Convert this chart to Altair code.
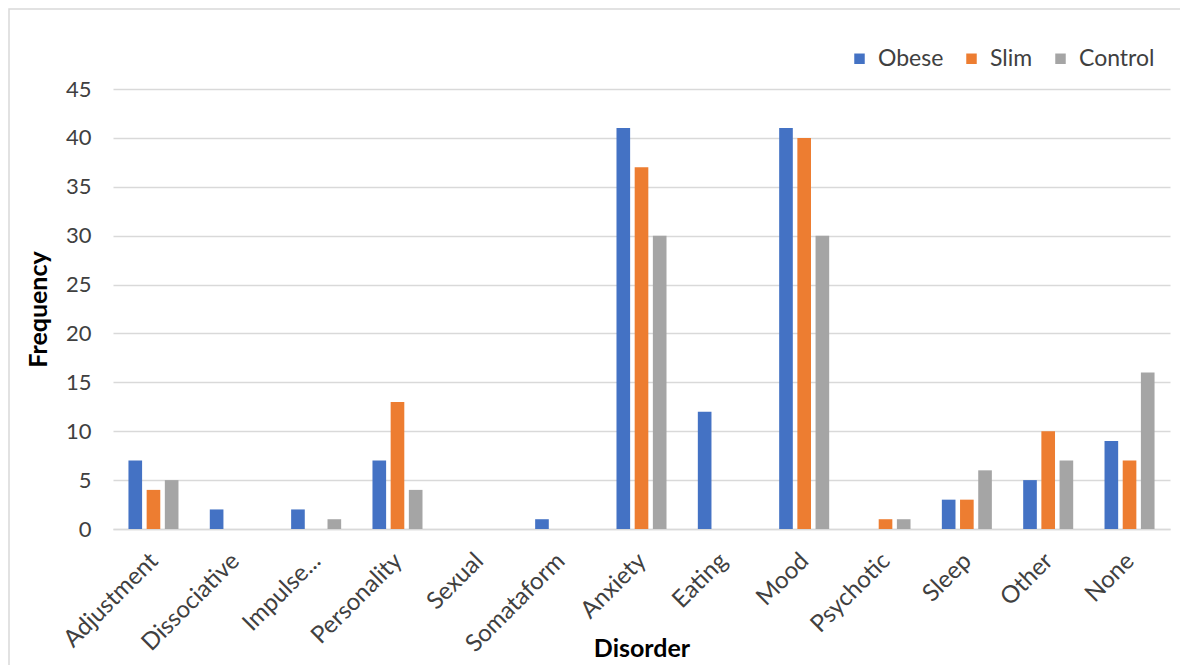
import altair as alt
import pandas as pd

categories = ["Adjustment", "Dissociative", "Impulse...", "Personality", "Sexual",
              "Somataform", "Anxiety", "Eating", "Mood", "Psychotic", "Sleep",
              "Other", "None"]
series = ["Obese", "Slim", "Control"]
obese = [7, 2, 2, 7, 0, 1, 41, 12, 41, 0, 3, 5, 9]
slim = [4, 0, 0, 13, 0, 0, 37, 0, 40, 1, 3, 10, 7]
control = [5, 0, 1, 4, 0, 0, 30, 0, 30, 1, 6, 7, 16]
colors = ["#4472C4", "#ED7D31", "#A5A5A5"]
y_ticks = list(range(0, 50, 5))

rows = []
for s, vals in zip(series, [obese, slim, control]):
    for c, v in zip(categories, vals):
        rows.append({"Disorder": c, "Series": s, "Frequency": v})
df = pd.DataFrame(rows)

FONT = "Lato"
W, H = 1057, 440

bars = alt.Chart(df).mark_bar().encode(
    x=alt.X("Disorder:N", sort=categories,
            scale=alt.Scale(paddingInner=0.385, paddingOuter=0.19),
            axis=alt.Axis(title="Disorder", labelAngle=-45, labelAlign="right",
                          labelBaseline="middle", labelFontSize=24,
                          labelColor="#404040", labelFont=FONT, labelPadding=28,
                          labelOffset=1,
                          ticks=False, domainColor="#D9D9D9", domainWidth=1.5,
                          titleFont=FONT, titleFontSize=25, titleFontWeight="bold",
                          titleColor="#000000", titleY=119, titleBaseline="middle")),
    xOffset=alt.XOffset("Series:N", sort=series,
                        scale=alt.Scale(paddingInner=0.25, paddingOuter=0)),
    y=alt.Y("Frequency:Q", scale=alt.Scale(domain=[0, 45], nice=False),
            axis=alt.Axis(title="Frequency", values=y_ticks, labelFontSize=22,
                          labelColor="#404040", labelFont=FONT, labelPadding=22,
                          ticks=False, domain=False, grid=True,
                          gridColor="#D9D9D9", gridWidth=1.5,
                          titleFont=FONT, titleFontSize=25, titleFontWeight="bold",
                          titleColor="#000000", titleX=-75, titleY=H / 2,
                          titleAngle=-90, titleAlign="center",
                          titleBaseline="middle")),
    color=alt.Color("Series:N", sort=series,
                    scale=alt.Scale(domain=series, range=colors),
                    legend=alt.Legend(title=None, orient="none", direction="horizontal",
                                      legendX=735, legendY=-42, symbolType="square",
                                      symbolSize=110, symbolStrokeWidth=0,
                                      labelFont=FONT, labelFontSize=23,
                                      labelColor="#404040", columnPadding=16,
                                      labelOffset=7)),
)

frame = alt.Chart(alt.Data(values=[{}])).mark_rect(
    fill=None, stroke="#D9D9D9", strokeWidth=1.5
).encode(
    x=alt.value(-104), x2=alt.value(W + 17),
    y=alt.value(-80), y2=alt.value(H + 150),
)

chart = alt.layer(frame, bars).properties(
    width=W, height=H,
    autosize=alt.AutoSizeParams(type="none"),
    padding={"left": 105, "top": 81, "right": 10, "bottom": 136},
    background="white",
).configure_view(stroke=None)

chart.save("out.html", embed_options={"renderer": "svg", "actions": False})
